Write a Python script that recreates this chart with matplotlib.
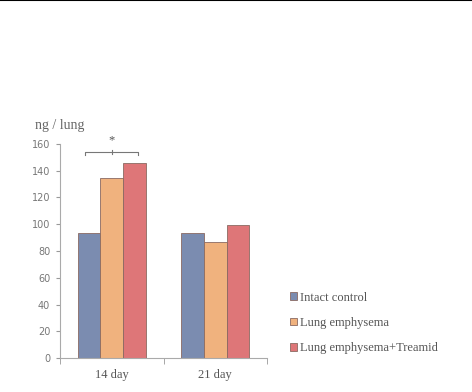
import numpy as np
import matplotlib
matplotlib.use("Agg")
import matplotlib.pyplot as plt
from matplotlib.lines import Line2D

days = ["14 day", "21 day"]
groups = ["Intact control", "Lung emphysema", "Lung emphysema+Treamid"]
intact = [93.5, 93.5]
emphysema = [134.6, 86.7]
treamid = [145.8, 99.2]
yticks = [0, 20, 40, 60, 80, 100, 120, 140, 160]

colors = ["#7b8cb0", "#f0b27e", "#de7678"]
serif = ["Liberation Serif", "DejaVu Serif"]

fig = plt.figure(figsize=(4.72, 3.92), dpi=100)
ax = fig.add_axes([0.1271, 0.0867, 0.4386, 0.546])

x = np.arange(len(days))
w = 0.22
bars = []
for i, vals in enumerate([intact, emphysema, treamid]):
    b = ax.bar(x + (i - 1) * w, vals, w, color=colors[i],
               edgecolor="#8a6a62", linewidth=0.6, label=groups[i])
    bars.append(b)

ax.set_xlim(-0.5, 1.5)
ax.set_ylim(0, 160)
ax.set_yticks(yticks)
ax.set_xticks(x)
ax.set_xticklabels(days, family=serif, fontsize=9, color="#555555")
ax.set_xticks([-0.5, 0.5, 1.5], minor=True)
ax.tick_params(axis="x", which="major", length=0, pad=8)
ax.tick_params(axis="x", which="minor", length=4, color="#999999", direction="out")
ax.tick_params(axis="y", length=3, color="#999999", labelsize=7,
               labelcolor="#777777", pad=4)
for s in ["top", "right"]:
    ax.spines[s].set_visible(False)
for s in ["left", "bottom"]:
    ax.spines[s].set_color("#aaaaaa")
    ax.spines[s].set_linewidth(0.8)

# significance bracket
bx0, bx1, by = -0.258, 0.254, 154.2
ax.plot([bx0, bx0, bx1, bx1], [by - 2.5, by, by, by - 2.5], color="#777777",
        lw=0.8, clip_on=False)
ax.plot([0, 0], [by - 1.5, by + 1.5], color="#777777", lw=0.8, clip_on=False)
ax.text(0, by + 4, "*", ha="center", va="bottom", fontsize=9, color="#555555",
        family=serif, clip_on=False)

fig.text(35 / 472, 1 - 126 / 392, "ng / lung", family=serif, fontsize=10,
         color="#666666", va="center", ha="left")

fig.legend(handles=bars, labels=groups, loc="upper left",
           bbox_to_anchor=(281 / 472, 1 - 283 / 392), frameon=False,
           prop={"family": serif, "size": 9}, labelcolor="#555555",
           handlelength=0.6, handleheight=0.6, handletextpad=0.25,
           labelspacing=1.05, borderpad=0.2)

fig.add_artist(Line2D([0, 1], [0.999, 0.999], color="black", lw=1.5,
                      transform=fig.transFigure))

fig.savefig("out.png", dpi=100)
